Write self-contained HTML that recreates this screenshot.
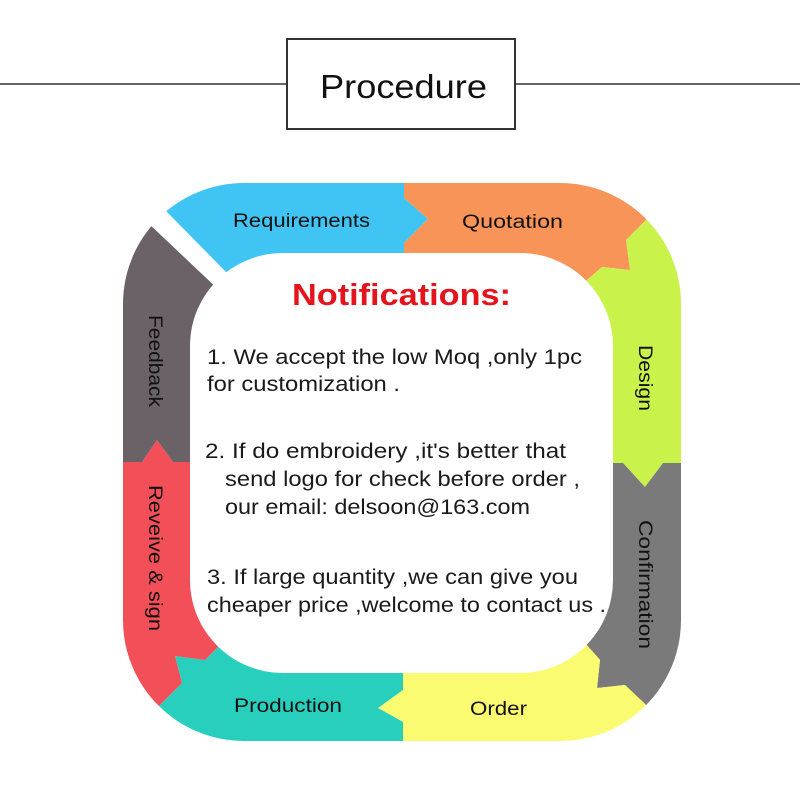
<!DOCTYPE html>
<html>
<head>
<meta charset="utf-8">
<style>
  html, body { margin: 0; padding: 0; background: #ffffff; }
  body { width: 800px; height: 800px; overflow: hidden; }
  svg { display: block; }
  text { font-family: "Liberation Sans", "DejaVu Sans", sans-serif; }
</style>
</head>
<body>
<svg width="800" height="800" viewBox="0 0 800 800" xmlns="http://www.w3.org/2000/svg">
  <defs>
    <clipPath id="ring">
      <path clip-rule="evenodd" fill-rule="evenodd" d="
        M 244,183 H 560 A 121 121 0 0 1 681,304 V 620 A 121 121 0 0 1 560,741 H 244 A 121 121 0 0 1 123,620 V 304 A 121 121 0 0 1 244,183 Z
        M 283,253 H 520 A 93 93 0 0 1 613,346 V 580 A 93 93 0 0 1 520,673 H 283 A 93 93 0 0 1 190,580 V 346 A 93 93 0 0 1 283,253 Z"/>
    </clipPath>
  </defs>

  <rect x="0" y="0" width="800" height="800" fill="#ffffff"/>

  <!-- Header -->
  <line x1="0" y1="84" x2="287" y2="84" stroke="#333" stroke-width="1.5"/>
  <line x1="515" y1="84" x2="800" y2="84" stroke="#333" stroke-width="1.5"/>
  <rect x="287" y="39" width="228" height="90" fill="#ffffff" stroke="#333" stroke-width="2"/>
  <text x="320" y="98" font-size="33" fill="#111" textLength="167" lengthAdjust="spacingAndGlyphs">Procedure</text>

  <!-- Ring segments -->
  <g clip-path="url(#ring)">
    <!-- Requirements (blue) -->
    <polygon fill="#40c4f4" points="287,334 108,152 108,100 404,100 404,198 428,219 404,243 404,334"/>
    <!-- Quotation (orange) -->
    <polygon fill="#f99458" points="404,100 720,100 720,146 643,223 626,240 630,270 602,267 587,280 520,346 404,346 404,243 428,219 404,198"/>
    <!-- Design (green) -->
    <polygon fill="#c9f24b" points="720,146 643,223 626,240 630,270 602,267 587,280 520,346 520,463 623,463 645,487 663,463 760,463 760,146"/>
    <!-- Confirmation (gray) -->
    <polygon fill="#7a7a7a" points="520,463 623,463 645,487 663,463 760,463 760,780 720,780 643,702 625,685 597,688 600,660 585,643 520,580"/>
    <!-- Order (yellow) -->
    <polygon fill="#fbfb72" points="520,580 585,643 600,660 597,688 625,685 643,702 720,780 720,800 403,800 403,722 378,708 403,690 403,580"/>
    <!-- Production (teal) -->
    <polygon fill="#29cfbd" points="403,580 403,690 378,708 403,722 403,800 80,800 80,785 162,703 182,683 175,656 205,660 220,645 283,580"/>
    <!-- Reveive & sign (red) -->
    <polygon fill="#f34f59" points="283,580 220,645 205,660 175,656 182,683 162,703 80,785 60,785 60,462 142,462 157,440 173,462 283,462"/>
    <!-- Feedback (dark gray) -->
    <polygon fill="#6a6267" points="60,462 142,462 157,440 173,462 283,462 283,350 275,343 93,171 60,171"/>
  </g>

  <!-- Ring labels -->
  <text x="233" y="227" font-size="19" fill="#111" textLength="137" lengthAdjust="spacingAndGlyphs">Requirements</text>
  <text x="462" y="228" font-size="19" fill="#111" textLength="101" lengthAdjust="spacingAndGlyphs">Quotation</text>
  <text x="234" y="712" font-size="19" fill="#111" textLength="108" lengthAdjust="spacingAndGlyphs">Production</text>
  <text x="470" y="715" font-size="19" fill="#111" textLength="57" lengthAdjust="spacingAndGlyphs">Order</text>
  <text transform="translate(639,345) rotate(90)" font-size="19" fill="#111" textLength="66" lengthAdjust="spacingAndGlyphs">Design</text>
  <text transform="translate(639,520) rotate(90)" font-size="19" fill="#111" textLength="129" lengthAdjust="spacingAndGlyphs">Confirmation</text>
  <text transform="translate(149,315) rotate(90)" font-size="19" fill="#111" textLength="92" lengthAdjust="spacingAndGlyphs">Feedback</text>
  <text transform="translate(149,485) rotate(90)" font-size="19" fill="#111" textLength="146" lengthAdjust="spacingAndGlyphs">Reveive &amp; sign</text>

  <!-- Notifications -->
  <text x="292" y="305" font-size="31" font-weight="bold" fill="#e3141b" textLength="219" lengthAdjust="spacingAndGlyphs">Notifications:</text>

  <g font-size="21" fill="#1a1a1a">
    <text x="207" y="364" textLength="375" lengthAdjust="spacingAndGlyphs">1. We accept the low Moq ,only 1pc</text>
    <text x="207" y="391" textLength="193" lengthAdjust="spacingAndGlyphs">for customization .</text>
    <text x="205" y="458" textLength="361" lengthAdjust="spacingAndGlyphs">2. If do embroidery ,it's better that</text>
    <text x="225" y="486" textLength="355" lengthAdjust="spacingAndGlyphs">send logo for check before order ,</text>
    <text x="225" y="514" textLength="305" lengthAdjust="spacingAndGlyphs">our email: delsoon@163.com</text>
    <text x="207" y="584" textLength="371" lengthAdjust="spacingAndGlyphs">3. If large quantity ,we can give you</text>
    <text x="207" y="612" textLength="399" lengthAdjust="spacingAndGlyphs">cheaper price ,welcome to contact us .</text>
  </g>
</svg>
</body>
</html>
